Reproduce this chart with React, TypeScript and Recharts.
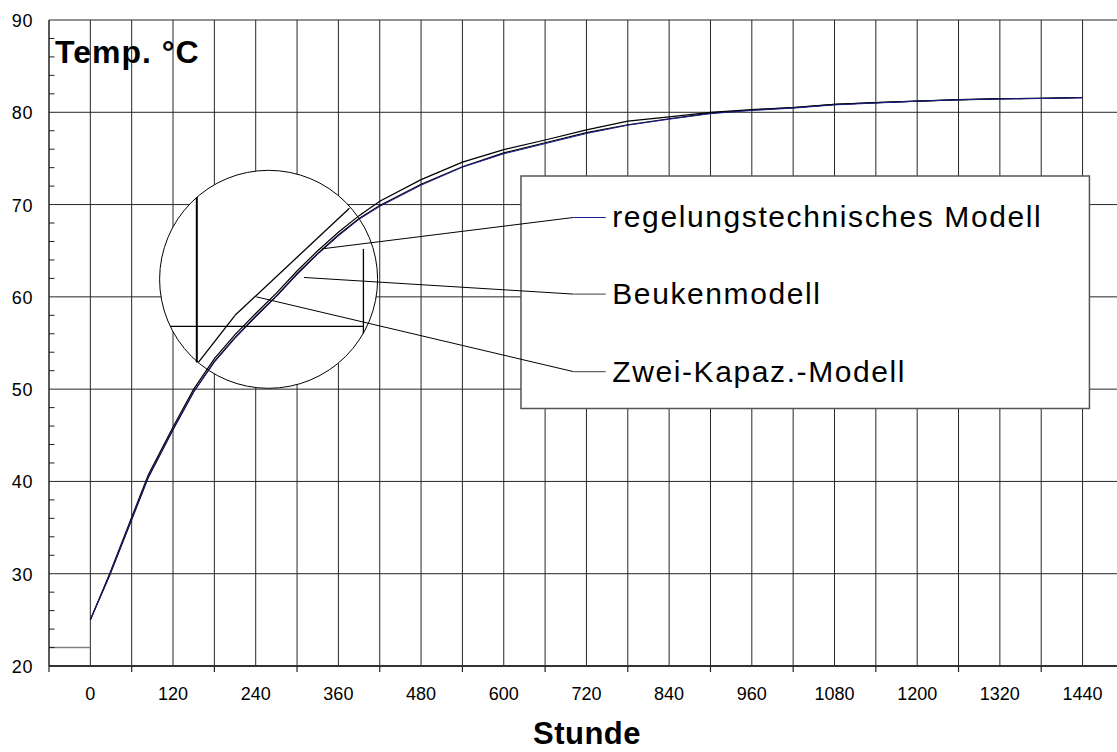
import React from "react";
import {
  CartesianGrid,
  Line,
  LineChart,
  ReferenceArea,
  ReferenceDot,
  ReferenceLine,
  XAxis,
  YAxis,
} from "recharts";

// hours since start
const hours = [0, 28, 84, 120, 150, 180, 210, 240, 270, 300, 330, 360, 390, 420, 480, 540, 600, 660, 720, 780, 840, 900, 960, 1020, 1080, 1140, 1200, 1260, 1320, 1380, 1440];

// temperature per model (°C)
const regelung = [25.0, 29.9, 40.5, 45.7, 49.7, 52.9, 55.5, 57.8, 60.0, 62.4, 64.6, 66.6, 68.4, 69.8, 72.1, 74.05, 75.5, 76.6, 77.7, 78.6, 79.25, 79.85, 80.2, 80.45, 80.8, 81.0, 81.2, 81.35, 81.45, 81.5, 81.58];
const beuken = [25.0, 29.8, 40.4, 45.6, 49.7, 53.0, 55.6, 57.9, 60.1, 62.5, 64.7, 66.7, 68.5, 69.9, 72.2, 74.1, 75.6, 76.7, 77.8, 78.65, 79.3, 79.9, 80.25, 80.5, 80.85, 81.05, 81.22, 81.37, 81.47, 81.52, 81.6];
const zweiKapaz = [25.0, 30.0, 40.7, 45.9, 50.0, 53.3, 55.9, 58.2, 60.4, 62.8, 65.0, 67.0, 68.8, 70.35, 72.7, 74.6, 75.95, 77.0, 78.1, 79.05, 79.5, 80.0, 80.3, 80.5, 80.85, 81.05, 81.2, 81.35, 81.45, 81.5, 81.58];

// starting temperature before t = 0
const initHours = [-60, 0];
const initTemp = [22, 22];

// axis ticks
const xLabels = [0, 120, 240, 360, 480, 600, 720, 840, 960, 1080, 1200, 1320, 1440];
const xMarks = [-60, 60, 180, 300, 420, 540, 660, 780, 900, 1020, 1140, 1260, 1380];
const xGrid = [0, 60, 120, 180, 240, 300, 360, 420, 480, 540, 600, 660, 720, 780, 840, 900, 960, 1020, 1080, 1140, 1200, 1260, 1320, 1380, 1440];
const yLabels = [20, 30, 40, 50, 60, 70, 80, 90];
const yMinor = [22, 24, 26, 28, 32, 34, 36, 38, 42, 44, 46, 48, 52, 54, 56, 58, 62, 64, 66, 68, 72, 74, 76, 78, 82, 84, 86, 88];

const legendNames = ["regelungstechnisches Modell", "Beukenmodell", "Zwei-Kapaz.-Modell"];

const toRows = (xs: number[], ys: number[]) => xs.map((t, i) => ({ t, v: ys[i] }));

const FONT = "'Liberation Sans', Arial, sans-serif";

const XTick = (props: any) => {
  const { x, y, payload } = props;
  if (xLabels.includes(payload.value)) {
    return (
      <text x={x} y={y + 34} textAnchor="middle" fontSize={18} fill="#000" fontFamily={FONT}>
        {payload.value}
      </text>
    );
  }
  return <line x1={x} y1={y} x2={x} y2={y + 6} stroke="#222" strokeWidth={1.2} />;
};

const YTick = (props: any) => {
  const { x, y, payload } = props;
  if (yLabels.includes(payload.value)) {
    return (
      <text x={x - 16} y={y + 7} textAnchor="end" fontSize={18} fill="#000" fontFamily={FONT} letterSpacing={0.6}>
        {payload.value}
      </text>
    );
  }
  return <line x1={x} y1={y} x2={x + 5.5} y2={y} stroke="#222" strokeWidth={1} />;
};

const YTitle = (props: any) => {
  const vb = props.viewBox;
  return (
    <text x={vb.x + vb.width + 6} y={vb.y + 43} fontSize={32} fontWeight="bold" fill="#000" fontFamily={FONT} letterSpacing={1}>
      Temp. °C
    </text>
  );
};

const XTitle = (props: any) => {
  const vb = props.viewBox;
  return (
    <text x={vb.x + vb.width / 2 + 4} y={vb.y + 78} textAnchor="middle" fontSize={31} fontWeight="bold" fill="#000" fontFamily={FONT} letterSpacing={0.5}>
      Stunde
    </text>
  );
};

const legendLabel = (text: string) => (props: any) => {
  const vb = props.viewBox;
  return (
    <text x={vb.x + vb.width + 6.5} y={vb.y + 10} fontSize={30} fill="#000" fontFamily={FONT} letterSpacing={1.6}>
      {text}
    </text>
  );
};

// callout / legend geometry in data units
const callouts = [
  { from: { x: 336, y: 65.2 }, to: { x: 701, y: 68.6 }, end: 748, color: "#1c1c8f" },
  { from: { x: 310, y: 62.1 }, to: { x: 701, y: 60.3 }, end: 748, color: "#666" },
  { from: { x: 241, y: 60.0 }, to: { x: 701, y: 51.9 }, end: 748, color: "#666" },
];

// magnifier inset strokes
const insetSegments = [
  [{ x: 154.5, y: 70.8 }, { x: 154.5, y: 52.9 }],
  [{ x: 115.7, y: 56.8 }, { x: 396.3, y: 56.8 }],
  [{ x: 396.3, y: 65.2 }, { x: 396.3, y: 56.0 }],
  [{ x: 156.8, y: 52.9 }, { x: 210, y: 58.0 }],
  [{ x: 210, y: 58.0 }, { x: 376, y: 69.6 }],
];

export default function App() {
  return (
    <div style={{ position: "absolute", left: 0, top: 0, fontFamily: FONT }}>
      <LineChart width={1117} height={752} margin={{ top: 20, right: 0, bottom: 26, left: 0 }}>
        <CartesianGrid
          stroke="#262626"
          strokeWidth={1}
          horizontalValues={[30, 40, 50, 60, 70, 80, 90]}
          verticalValues={xGrid}
        />
        <XAxis
          type="number"
          dataKey="t"
          domain={[-60, 1490]}
          allowDataOverflow
          ticks={[...xMarks, ...xLabels].sort((a, b) => a - b)}
          interval={0}
          tick={<XTick />}
          tickLine={false}
          tickSize={0}
          tickMargin={0}
          height={60}
          axisLine={{ stroke: "#333", strokeWidth: 2 }}
          label={<XTitle />}
        />
        <YAxis
          type="number"
          domain={[20, 90]}
          allowDataOverflow
          ticks={[...yLabels, ...yMinor].sort((a, b) => a - b)}
          interval={0}
          tick={<YTick />}
          tickLine={false}
          tickSize={0}
          tickMargin={0}
          width={49}
          axisLine={{ stroke: "#222", strokeWidth: 1.5 }}
          label={<YTitle />}
        />
        <ReferenceDot x={258.7} y={61.9} r={109} fill="#fff" stroke="#000" strokeWidth={1} zIndex={-50} />
        <ReferenceArea x1={625} x2={1450} y1={47.9} y2={73.1} fill="#fff" fillOpacity={1} stroke="#555" strokeWidth={1.5} zIndex={-50} />
        <Line data={toRows(initHours, initTemp)} dataKey="v" stroke="#808080" strokeWidth={1.5} dot={false} activeDot={false} isAnimationActive={false} />
        <Line data={toRows(hours, zweiKapaz)} dataKey="v" type="linear" stroke="#000" strokeWidth={1.2} dot={false} activeDot={false} isAnimationActive={false} />
        <Line data={toRows(hours, beuken)} dataKey="v" type="linear" stroke="#000" strokeWidth={1.2} dot={false} activeDot={false} isAnimationActive={false} />
        <Line data={toRows(hours, regelung)} dataKey="v" type="linear" stroke="#1c1c8f" strokeWidth={1} dot={false} activeDot={false} isAnimationActive={false} />
        {insetSegments.map((seg, i) => (
          <ReferenceLine key={`inset-${i}`} segment={seg} stroke="#000" strokeWidth={i === 0 ? 2 : 1.3} />
        ))}
        {callouts.map((c, i) => (
          <ReferenceLine key={`call-${i}`} segment={[c.from, c.to]} stroke="#000" strokeWidth={1} />
        ))}
        {callouts.map((c, i) => (
          <ReferenceLine
            key={`leg-${i}`}
            segment={[c.to, { x: c.end, y: c.to.y }]}
            stroke={c.color}
            strokeWidth={1.2}
            label={legendLabel(legendNames[i])}
          />
        ))}
      </LineChart>
    </div>
  );
}
